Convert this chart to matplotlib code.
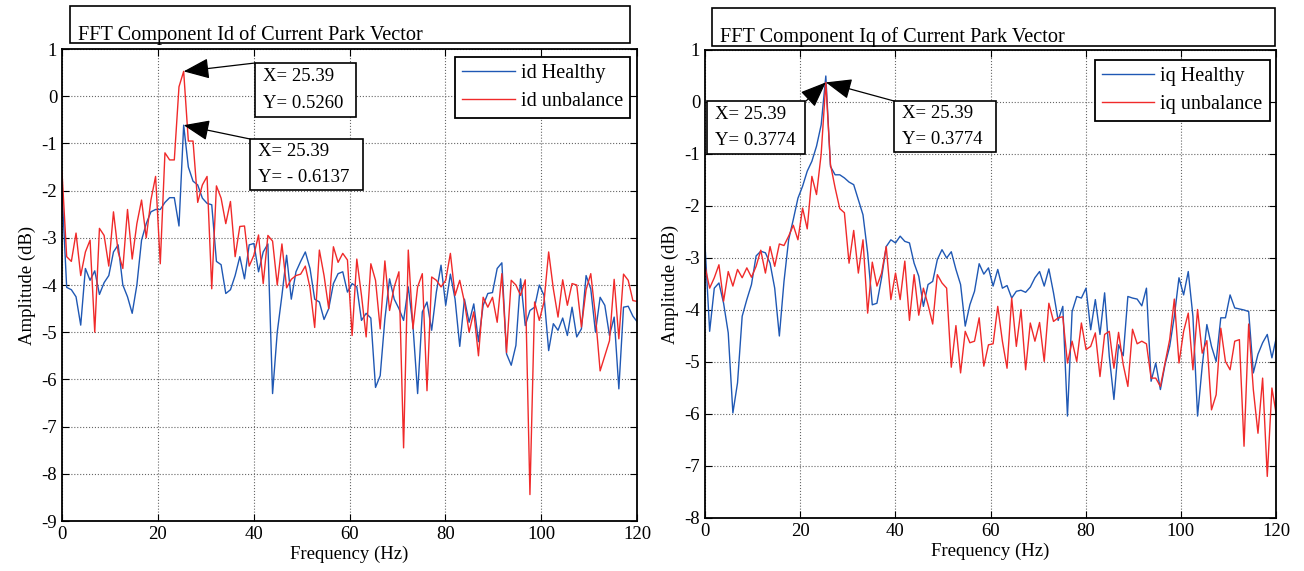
import numpy as np
import matplotlib
matplotlib.use('Agg')
from matplotlib import pyplot as plt
from matplotlib.patches import Rectangle

W, H = 1304, 571

# resolução do FFT: fs = 1000 Hz, N = 1024 -> 0.9766 Hz
df = 1000 / 1024

id_healthy = [
    -2.0, -4.05, -4.1, -4.25, -4.85, -3.65, -3.9, -3.7, -4.2, -3.95,
    -3.8, -3.3, -3.15, -4.0, -4.25, -4.6, -4.0, -3.05, -2.7, -2.45,
    -2.4, -2.4, -2.25, -2.15, -2.15, -2.75, -0.6137, -1.5, -1.8, -1.88,
    -2.16, -2.27, -2.3, -3.5, -3.57, -4.18, -4.1, -3.8, -3.4, -3.87,
    -3.15, -3.12, -3.72, -3.3, -3.13, -6.3, -5.0, -4.22, -3.37, -4.3,
    -3.72, -3.5, -3.3, -3.65, -4.3, -4.36, -4.73, -4.5, -3.97, -3.76,
    -3.72, -4.15, -3.97, -4.04, -4.75, -4.6, -4.7, -6.17, -5.92, -4.72,
    -3.87, -4.3, -4.5, -4.75, -4.04, -4.86, -6.3, -4.57, -4.36, -4.96,
    -4.15, -3.58, -4.43, -3.77, -4.3, -5.3, -4.3, -4.79, -4.4, -5.2,
    -4.43, -4.18, -4.16, -3.65, -3.53, -5.46, -5.7, -5.28, -3.87, -4.86,
    -4.54, -4.47, -4.0, -4.22, -5.39, -4.82, -4.96, -4.7, -5.07, -4.47,
    -5.1, -4.93, -3.8, -4.08, -5.0, -4.26, -4.43, -5.07, -4.68, -6.2,
    -4.47, -4.45, -4.66, -4.79,
]
id_unbalance = [
    -1.6, -3.4, -3.5, -2.9, -3.8, -3.3, -3.05, -5.0, -2.8, -2.95,
    -3.6, -2.45, -3.3, -3.65, -2.4, -3.45, -2.7, -2.2, -3.0, -2.2,
    -1.7, -3.55, -1.2, -1.35, -1.35, 0.2, 0.526, -0.95, -0.95, -2.25,
    -1.88, -1.7, -4.08, -1.9, -2.16, -2.7, -2.23, -3.4, -2.76, -2.75,
    -3.6, -3.37, -2.94, -3.97, -2.95, -3.07, -4.0, -3.13, -4.06, -3.88,
    -3.8, -3.77, -3.6, -4.06, -4.9, -3.26, -3.8, -4.5, -3.19, -3.52,
    -3.33, -3.47, -5.07, -3.45, -4.22, -5.1, -3.55, -3.9, -4.93, -3.49,
    -4.54, -4.04, -3.72, -7.45, -3.26, -4.93, -4.04, -3.76, -6.24, -3.83,
    -3.9, -4.04, -3.9, -3.33, -4.22, -3.9, -4.36, -5.0, -4.57, -5.5,
    -4.26, -4.47, -4.26, -4.79, -3.76, -5.43, -3.9, -4.0, -4.22, -3.89,
    -8.44, -4.36, -4.75, -4.36, -3.3, -4.08, -4.68, -3.89, -4.43, -3.97,
    -4.0, -4.89, -4.1, -3.76, -4.65, -5.82, -5.5, -5.18, -3.88, -5.14,
    -3.77, -3.9, -4.33, -4.35,
]
iq_healthy = [
    -2.74, -4.41, -3.58, -3.48, -3.87, -4.44, -5.98, -5.4, -4.12, -3.8,
    -3.51, -2.96, -2.87, -2.9, -3.1, -3.58, -4.5, -3.45, -2.65, -2.26,
    -1.85, -1.62, -1.33, -1.14, -0.85, -0.44, 0.5, -1.24, -1.4, -1.4,
    -1.46, -1.54, -1.59, -1.88, -2.17, -2.9, -3.9, -3.87, -3.38, -2.78,
    -2.65, -2.71, -2.58, -2.68, -2.71, -3.1, -3.35, -3.93, -3.51, -3.45,
    -3.03, -2.84, -3.0, -2.88, -3.22, -3.51, -4.31, -3.9, -3.64, -3.11,
    -3.31, -3.19, -3.54, -3.22, -3.58, -3.53, -3.77, -3.64, -3.62, -3.66,
    -3.56, -3.38, -3.26, -3.54, -3.21, -3.67, -4.2, -3.93, -6.04, -4.03,
    -3.74, -3.77, -3.58, -4.38, -3.8, -4.47, -3.67, -4.89, -5.72, -4.67,
    -4.88, -3.74, -3.77, -3.79, -3.92, -3.58, -5.37, -5.02, -5.53, -5.05,
    -4.7, -4.12, -3.38, -3.71, -3.26, -4.12, -6.04, -5.08, -4.28, -4.7,
    -4.99, -4.15, -4.15, -3.71, -3.96, -3.98, -4.0, -4.03, -5.21, -4.85,
    -4.63, -4.47, -4.92, -4.51,
]
iq_unbalance = [
    -3.16, -3.58, -3.38, -3.13, -3.83, -3.26, -3.54, -3.22, -3.38, -3.19,
    -3.37, -3.16, -2.85, -3.29, -2.78, -3.16, -2.73, -2.76, -2.58, -2.37,
    -2.65, -2.04, -2.44, -1.43, -1.78, -1.0, 0.3774, -1.2, -1.65, -2.05,
    -2.13, -3.1, -2.47, -3.29, -2.65, -4.06, -3.08, -3.54, -3.29, -2.78,
    -3.8, -3.29, -3.8, -3.06, -4.2, -3.32, -4.1, -3.58, -3.9, -4.27,
    -3.32, -3.48, -3.58, -5.1, -4.3, -5.21, -4.41, -4.63, -4.6, -4.15,
    -5.08, -4.67, -4.65, -3.93, -4.6, -5.12, -3.77, -4.7, -3.99, -5.15,
    -4.25, -4.6, -4.24, -4.99, -3.87, -4.22, -4.15, -4.13, -5.02, -4.6,
    -4.99, -4.25, -4.76, -4.7, -4.44, -5.28, -4.47, -4.41, -5.12, -4.43,
    -5.05, -5.47, -4.37, -4.65, -4.6, -4.65, -5.31, -5.31, -5.47, -5.02,
    -4.57, -3.79, -5.02, -4.41, -4.06, -5.15, -3.99, -4.83, -4.59, -5.92,
    -5.63, -4.35, -4.99, -5.15, -4.6, -4.57, -6.62, -4.27, -5.53, -6.37,
    -5.31, -7.2, -5.5, -6.04,
]
freq = np.arange(len(id_healthy)) * df
pico = 26  # índice de 25.39 Hz

AZUL = '#1f58b4'
VERMELHO = '#f02a2a'

plt.rcParams['font.family'] = ['Liberation Serif', 'DejaVu Serif']
plt.rcParams['font.size'] = 13
plt.rcParams['axes.unicode_minus'] = False

fig = plt.figure(figsize=(W / 100, H / 100), dpi=100)


def caixa_px(x0, y0, x1, y1):
    # pixels (a partir do topo) -> fração da figura
    return [x0 / W, 1 - y1 / H, (x1 - x0) / W, (y1 - y0) / H]


def retangulo(x0, y0, x1, y1, lw=1.2):
    r = Rectangle((x0 / W, 1 - y1 / H), (x1 - x0) / W, (y1 - y0) / H,
                  transform=fig.transFigure, fc='white', ec='black', lw=lw, zorder=5)
    fig.add_artist(r)


def dica(ax, x, y, linhas, caixa, inicio):
    x0, y0, x1, y1 = caixa
    retangulo(x0, y0, x1, y1)
    passo = (y1 - y0) / 2
    for k, t in enumerate(linhas):
        fig.text((x0 + 8) / W, 1 - (y0 + passo * (k + 0.5)) / H, t,
                 ha='left', va='center', fontsize=13.5, zorder=6)
    ax.annotate('', xy=(x, y), xycoords='data',
                xytext=(inicio[0], H - inicio[1]), textcoords='figure pixels',
                annotation_clip=False,
                arrowprops=dict(arrowstyle='-|>,head_length=1.0,head_width=0.4',
                                color='black', lw=0.9, shrinkA=0, shrinkB=0,
                                mutation_scale=16))


def grafico(ax, saudavel, desbal, nomes, ymin, ancora):
    ax.plot(freq, saudavel, color=AZUL, lw=1.0, label=nomes[0])
    ax.plot(freq, desbal, color=VERMELHO, lw=1.0, label=nomes[1])
    ax.set_xlim(0, 120)
    ax.set_ylim(ymin, 1)
    ax.set_xticks(range(0, 121, 20))
    ax.set_yticks(range(ymin, 2))
    ax.grid(True, ls=':', color='0.4', lw=0.8)
    ax.tick_params(direction='in', top=True, right=True, length=5, labelsize=13.5)
    for s in ax.spines.values():
        s.set_linewidth(1.3)
    ax.set_xlabel('Frequency (Hz)', fontsize=13.5, labelpad=2)
    ax.set_ylabel('Amplitude (dB)', fontsize=13.5, labelpad=4)
    leg = ax.legend(loc='upper right', bbox_to_anchor=ancora, fancybox=False,
                    edgecolor='black', framealpha=1, handlelength=2.6,
                    handletextpad=0.3, borderaxespad=0, borderpad=0.35,
                    labelspacing=0.45, fontsize=14.5)
    leg.get_frame().set_linewidth(1.3)


ax1 = fig.add_axes(caixa_px(62, 49, 637, 521))
grafico(ax1, id_healthy, id_unbalance, ['id Healthy', 'id unbalance'], -9, (0.988, 0.983))

ax2 = fig.add_axes(caixa_px(705, 50, 1276, 518))
grafico(ax2, iq_healthy, iq_unbalance, ['iq Healthy', 'iq unbalance'], -8, (0.989, 0.979))

# caixas de título
retangulo(70, 6, 630, 43)
fig.text(78 / W, 1 - 40 / H, 'FFT Component Id of Current Park Vector',
         ha='left', va='baseline', fontsize=14.6, zorder=6)
retangulo(712, 8, 1275, 46)
fig.text(720 / W, 1 - 42 / H, 'FFT Component Iq of Current Park Vector',
         ha='left', va='baseline', fontsize=14.6, zorder=6)

# marcadores de dados (datatips)
xp = freq[pico]
yd = id_unbalance[pico]
yh = id_healthy[pico]
yq = iq_unbalance[pico]
dica(ax1, xp, yd, [f'X= {xp:.2f}', f'Y= {yd:.4f}'], (255, 63, 356, 117), (255, 63))
dica(ax1, xp, yh, [f'X= {xp:.2f}', f'Y= - {abs(yh):.4f}'], (250, 139, 363, 190), (250, 139))
dica(ax2, xp, yq, [f'X= {xp:.2f}', f'Y= {yq:.4f}'], (707, 101, 805, 154), (806, 101))
dica(ax2, xp, yq, [f'X= {xp:.2f}', f'Y= {yq:.4f}'], (894, 101, 996, 152), (894, 101))

fig.savefig('out.png', dpi=100)
